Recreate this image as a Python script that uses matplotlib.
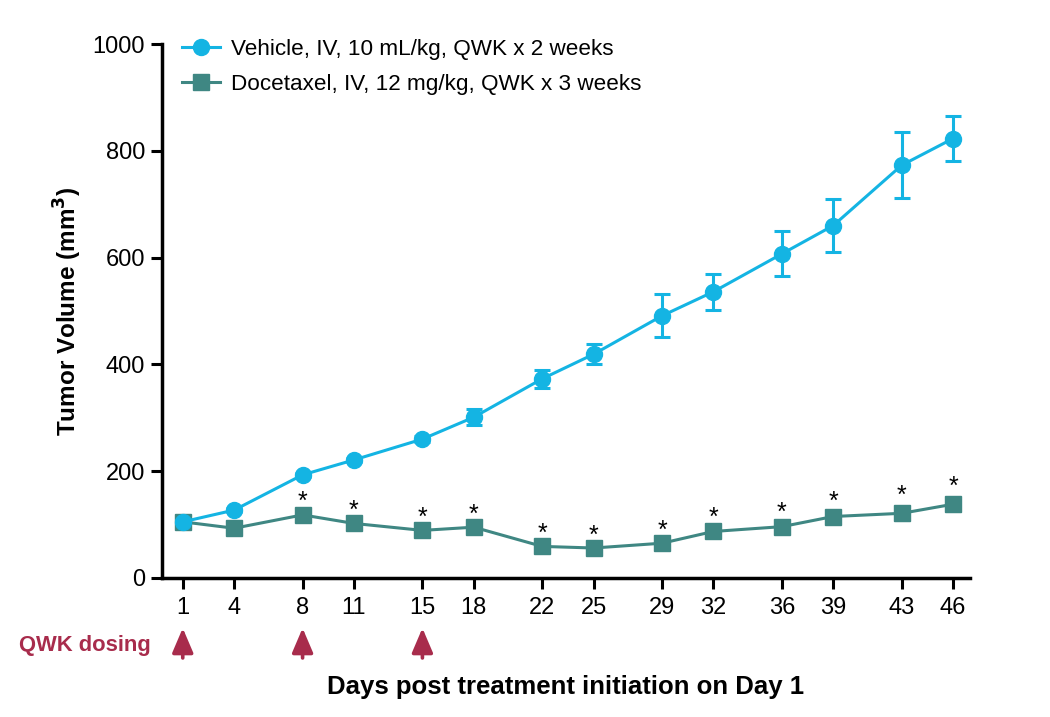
import matplotlib.pyplot as plt
from matplotlib.lines import Line2D

plt.rcParams['font.family'] = ['Liberation Sans', 'DejaVu Sans']

# data
days = [1, 4, 8, 11, 15, 18, 22, 25, 29, 32, 36, 39, 43, 46]
vehicle_mean = [105, 127, 193, 221, 260, 301, 373, 419, 491, 536, 607, 660, 773, 823]
vehicle_err = [3, 3, 4, 4, 5, 15, 17, 19, 40, 34, 42, 49, 62, 42]
doce_mean = [105, 93, 118, 102, 89, 95, 59, 56, 65, 87, 96, 115, 121, 138]
doce_err = [4, 4, 5, 4, 4, 4, 3, 3, 4, 5, 6, 7, 12, 12]
signif = [False, False, True, True, True, True, True, True, True, True, True, True, True, True]
dosing_days = [1, 8, 15]

vehicle_label = "Vehicle, IV, 10 mL/kg, QWK x 2 weeks"
doce_label = "Docetaxel, IV, 12 mg/kg, QWK x 3 weeks"

vehicle_color = "#14b4e3"
doce_color = "#3f8783"
dose_color = "#a82c4c"

fig = plt.figure(figsize=(10.5, 7.17), dpi=100)
ax = fig.add_axes([0.154, 0.194, 0.770, 0.7446])

ax.errorbar(days, vehicle_mean, yerr=vehicle_err, color=vehicle_color, marker='o',
            markersize=11.5, lw=2.2, capsize=6, capthick=2.2, elinewidth=2.2, zorder=4)
ax.errorbar(days, doce_mean, yerr=doce_err, color=doce_color, marker='s',
            markersize=11.5, lw=2.2, capsize=6, capthick=2.2, elinewidth=2.2, zorder=3)

# significance stars above the docetaxel points
for d, m, e, s in zip(days, doce_mean, doce_err, signif):
    if s:
        ax.annotate("*", (d, m + e), xytext=(0, -1), textcoords='offset points',
                    ha='center', va='bottom', fontsize=18)

ax.set_xlim(-0.23, 47.0)
ax.set_ylim(0, 1000)
ax.set_xticks(days)
ax.set_yticks([0, 200, 400, 600, 800, 1000])
ax.tick_params(axis='both', labelsize=17, width=2.2, length=8, direction='out')
ax.tick_params(axis='x', pad=6)
ax.tick_params(axis='y', pad=4)
for side in ['top', 'right']:
    ax.spines[side].set_visible(False)
for side in ['left', 'bottom']:
    ax.spines[side].set_linewidth(2.5)

ax.set_ylabel("Tumor Volume (mm$^\\mathbf{3}$)", fontsize=17.5, fontweight='bold', labelpad=6)
ax.set_xlabel("Days post treatment initiation on Day 1", fontsize=18.5, fontweight='bold',
              labelpad=40)

handles = [
    Line2D([], [], color=vehicle_color, marker='o', markersize=11.5, lw=2.2),
    Line2D([], [], color=doce_color, marker='s', markersize=11.5, lw=2.2),
]
ax.legend(handles, [vehicle_label, doce_label], loc='upper left',
          bbox_to_anchor=(0.0, 1.048), frameon=False, fontsize=16.2,
          handlelength=1.7, handletextpad=0.5, labelspacing=0.62)

# dosing arrows below the axis
xt = ax.get_xaxis_transform()
for d in dosing_days:
    ax.annotate("", xy=(d, -0.094), xytext=(d, -0.150), xycoords=xt, textcoords=xt,
                arrowprops=dict(arrowstyle="-|>,head_length=0.75,head_width=0.32",
                                color=dose_color, lw=2.6, mutation_scale=20,
                                shrinkA=0, shrinkB=0),
                annotation_clip=False)
fig.text(0.018, 0.100, "QWK dosing", color=dose_color, fontsize=15.8, fontweight='bold',
         va='center', ha='left')

fig.savefig("out.png", dpi=100)
